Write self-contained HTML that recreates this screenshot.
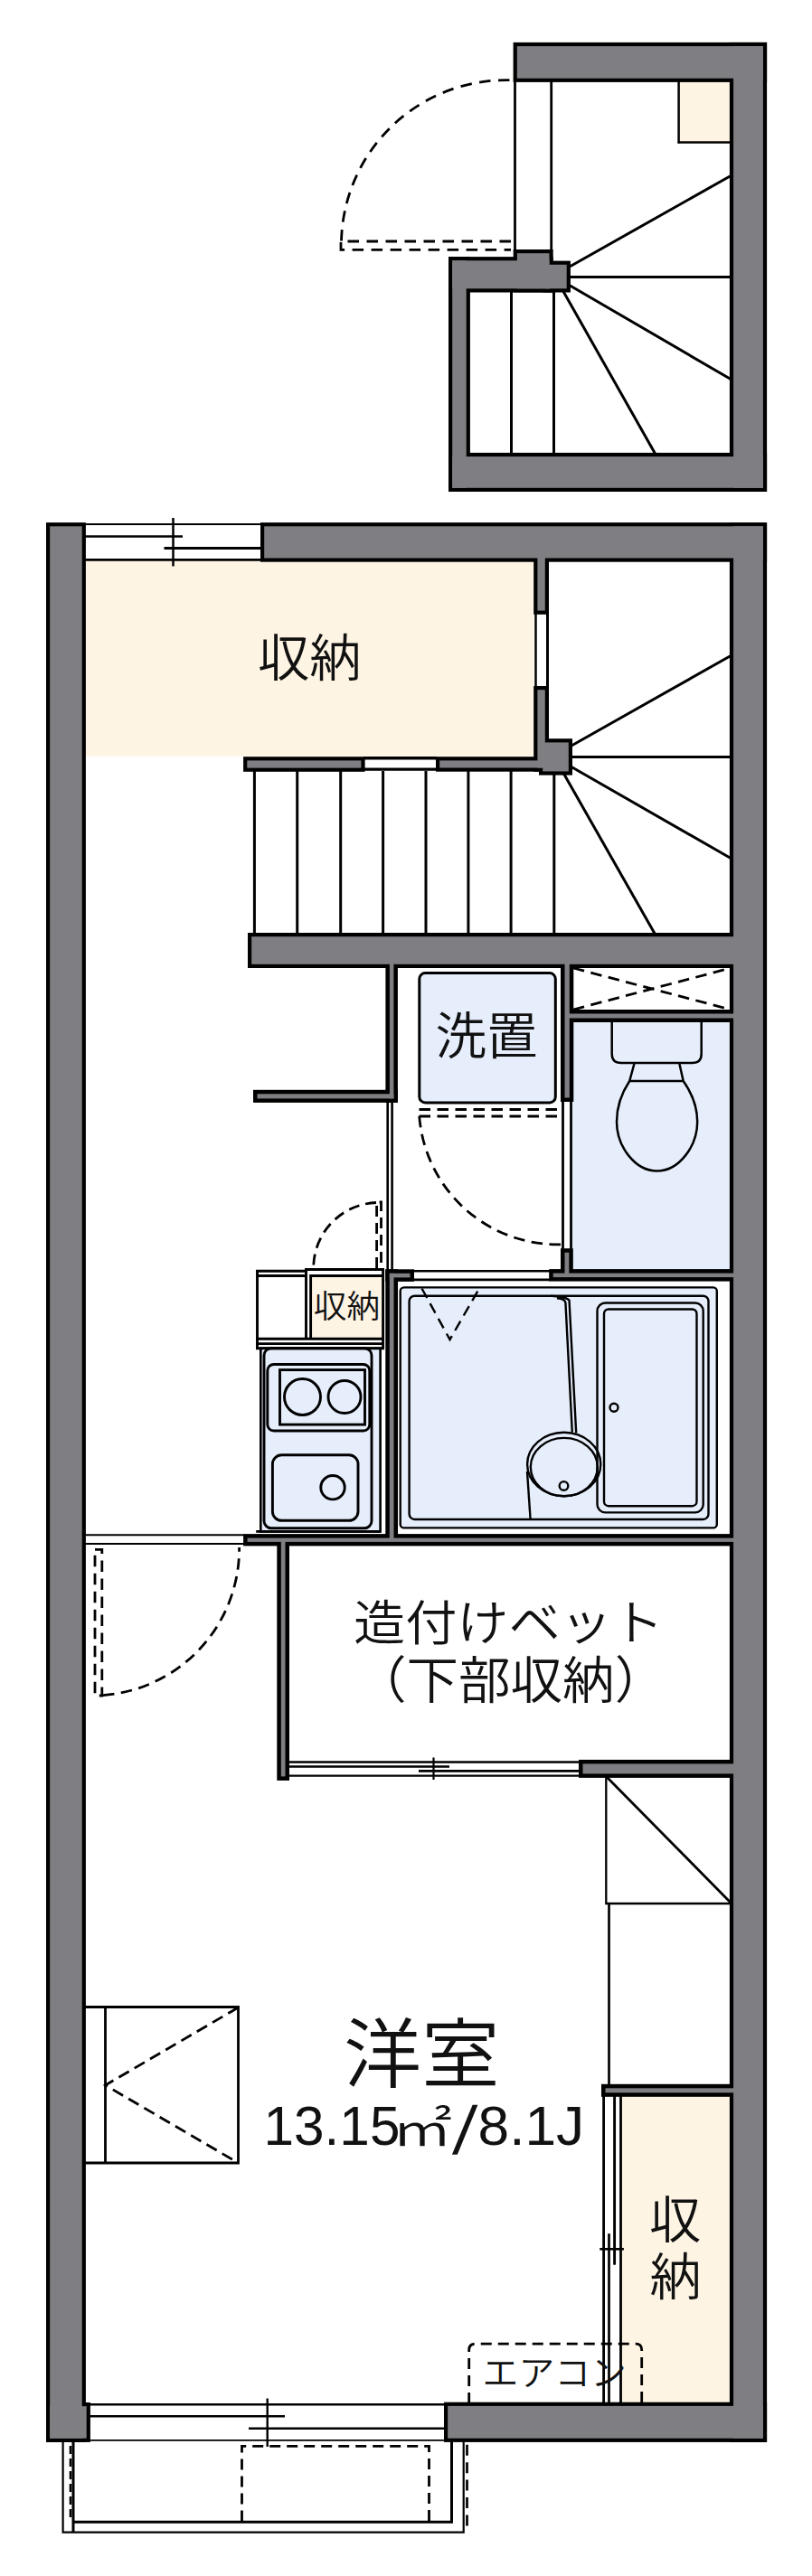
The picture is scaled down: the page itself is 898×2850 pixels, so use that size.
<!DOCTYPE html>
<html lang="ja"><head><meta charset="utf-8"><title>間取り図</title>
<style>html,body{margin:0;padding:0;background:#fff}svg{display:block}</style>
</head><body>
<svg width="898" height="2850" viewBox="0 0 898 2850">
<rect width="898" height="2850" fill="#fff"/>
<rect x="94.3" y="619.0" width="496.7" height="217.6" fill="#fef4e3" />
<rect x="750.6" y="88.5" width="58.4" height="69.0" fill="#fef4e3" />
<rect x="688.0" y="2317.0" width="122.0" height="343.0" fill="#fef4e3" />
<rect x="632.0" y="1128.0" width="178.0" height="278.0" fill="#e6eefc" />
<rect x="345.0" y="1413.0" width="77.4" height="67.0" fill="#fef4e3" />
<line x1="569.5" y1="88.0" x2="569.5" y2="278.0" stroke="#000" stroke-width="2.8" />
<line x1="609.7" y1="88.0" x2="609.7" y2="278.0" stroke="#000" stroke-width="2.8" />
<line x1="750.6" y1="88.0" x2="750.6" y2="158.5" stroke="#000" stroke-width="2.5" />
<line x1="749.6" y1="157.5" x2="809.0" y2="157.5" stroke="#000" stroke-width="2.5" />
<line x1="565.5" y1="321.0" x2="565.5" y2="502.0" stroke="#000" stroke-width="3" />
<line x1="612.5" y1="321.0" x2="612.5" y2="502.0" stroke="#000" stroke-width="3" />
<line x1="630.0" y1="295.0" x2="809.0" y2="194.0" stroke="#000" stroke-width="3" />
<line x1="630.0" y1="306.5" x2="809.0" y2="306.5" stroke="#000" stroke-width="3" />
<line x1="630.0" y1="315.8" x2="809.0" y2="420.0" stroke="#000" stroke-width="3" />
<line x1="622.2" y1="321.0" x2="724.6" y2="502.0" stroke="#000" stroke-width="3" />
<g fill="none" stroke="#000" stroke-width="2.8" stroke-dasharray="12.5 8.5">
<path d="M565,267 H377 V276.4 H565"/>
<path d="M377.5,266.5 A182.4,182.4 0 0 1 560,88.6 H567"/>
</g>
<line x1="94.0" y1="580.0" x2="289.0" y2="580.0" stroke="#000" stroke-width="2" />
<line x1="94.0" y1="593.5" x2="202.0" y2="593.5" stroke="#000" stroke-width="2.4" />
<line x1="181.5" y1="606.5" x2="289.0" y2="606.5" stroke="#000" stroke-width="2.8" />
<line x1="94.0" y1="619.4" x2="289.0" y2="619.4" stroke="#000" stroke-width="2.6" />
<line x1="191.5" y1="573.0" x2="191.5" y2="626.5" stroke="#000" stroke-width="2.5" />
<line x1="592.5" y1="677.0" x2="592.5" y2="761.0" stroke="#000" stroke-width="2.5" />
<line x1="605.5" y1="677.0" x2="605.5" y2="761.0" stroke="#000" stroke-width="3" />
<line x1="402.0" y1="838.7" x2="483.0" y2="838.7" stroke="#000" stroke-width="3.4" />
<line x1="402.0" y1="851.2" x2="483.0" y2="851.2" stroke="#000" stroke-width="3.2" />
<line x1="281.4" y1="853.0" x2="281.4" y2="1034.0" stroke="#000" stroke-width="3" />
<line x1="328.7" y1="853.0" x2="328.7" y2="1034.0" stroke="#000" stroke-width="3" />
<line x1="376.7" y1="853.0" x2="376.7" y2="1034.0" stroke="#000" stroke-width="3" />
<line x1="423.6" y1="853.0" x2="423.6" y2="1034.0" stroke="#000" stroke-width="3" />
<line x1="471.0" y1="853.0" x2="471.0" y2="1034.0" stroke="#000" stroke-width="3" />
<line x1="517.9" y1="853.0" x2="517.9" y2="1034.0" stroke="#000" stroke-width="3" />
<line x1="565.1" y1="853.0" x2="565.1" y2="1034.0" stroke="#000" stroke-width="3" />
<line x1="612.8" y1="853.0" x2="612.8" y2="1034.0" stroke="#000" stroke-width="3" />
<line x1="632.0" y1="825.0" x2="809.0" y2="725.0" stroke="#000" stroke-width="3" />
<line x1="632.0" y1="837.4" x2="809.0" y2="837.4" stroke="#000" stroke-width="3" />
<line x1="632.0" y1="848.5" x2="809.0" y2="950.0" stroke="#000" stroke-width="3" />
<line x1="623.5" y1="856.0" x2="724.7" y2="1034.0" stroke="#000" stroke-width="3" />
<rect x="463.8" y="1076.6" width="150.5" height="143.3" rx="6.5" fill="#e6eefc" stroke="#000" stroke-width="3"/>
<g fill="none" stroke="#000" stroke-width="2.8" stroke-dasharray="12.5 7.5">
<path d="M634,1071 L810,1117.5 M634,1117 L810,1070.5"/>
</g>
<line x1="428.7" y1="1219.0" x2="428.7" y2="1406.0" stroke="#000" stroke-width="2.6" />
<line x1="433.6" y1="1219.0" x2="433.6" y2="1406.0" stroke="#000" stroke-width="2.6" />
<line x1="622.5" y1="1217.0" x2="622.5" y2="1384.0" stroke="#000" stroke-width="2.8" />
<line x1="631.5" y1="1217.0" x2="631.5" y2="1384.0" stroke="#000" stroke-width="2.8" />
<g fill="none" stroke="#000" stroke-width="2.8" stroke-dasharray="12.5 7.5">
<path d="M463.5,1227.5 H616 V1235 H463.5 Z"/>
<path d="M463.7,1235 A153.7,153.7 0 0 0 621,1376.8"/>
</g>
<line x1="457.0" y1="1406.2" x2="608.0" y2="1406.2" stroke="#000" stroke-width="2.4" />
<line x1="457.0" y1="1415.8" x2="608.0" y2="1415.8" stroke="#000" stroke-width="2.8" />
<g fill="none" stroke="#000" stroke-width="2.5">
<path d="M676.7,1130 V1166 Q676.7,1176 687,1176 H765.5 Q775.7,1176 775.7,1166 V1130" fill="#e6eefc"/>
<path d="M701.4,1177 L696.2,1196 M751.4,1177 L755.7,1196 M696.2,1196 H755.7"/>
<path d="M696.2,1196 C687,1210 682,1225 682,1241 C682,1268 702,1295.5 726.7,1295.5 C751,1295.5 771.2,1268 771.2,1241 C771.2,1225 765.5,1210 755.7,1196"/>
</g>
<rect x="288.3" y="1491.7" width="132.3" height="202.7" fill="#e6eefc" stroke="#000" stroke-width="2.6"/>
<g fill="none" stroke="#000" stroke-width="2.9">
<path d="M284.5,1493 V1406.3 H338.5 M284.5,1411.5 H338.5"/>
<path d="M338.5,1481 V1404.5 H423.6 V1493 M343.6,1481 V1411.5 H423.6"/>
<path d="M283,1481.2 H425 M283,1486.6 H425 M283,1491.7 H425"/>
<path d="M283.2,1694.4 H421"/>
</g>
<g fill="none" stroke="#000" stroke-width="2.8" stroke-dasharray="12 7">
<path d="M416.6,1403 V1330 H421.5 V1403"/>
<path d="M416,1330.5 A72.4,72.4 0 0 0 346.7,1403"/>
</g>
<g fill="none" stroke="#000" stroke-width="2.9">
<rect x="292" y="1491.7" width="119" height="199" rx="8"/>
<rect x="295.8" y="1509.5" width="113" height="73.5" rx="7"/>
<rect x="309.5" y="1515.6" width="94" height="60.5"/>
<ellipse cx="334.5" cy="1545.5" rx="20" ry="20"/>
<ellipse cx="381" cy="1545.5" rx="18" ry="18"/>
<rect x="301.4" y="1609.8" width="94.6" height="72.5" rx="10"/>
<circle cx="368" cy="1645.7" r="13.2"/>
</g>
<rect x="442.7" y="1424.4" width="350.1" height="266" rx="4" fill="#e6eefc" stroke="#000" stroke-width="2.4"/>
<g fill="none" stroke="#000" stroke-width="2.4">
<rect x="452.6" y="1433.7" width="330.9" height="247.3" rx="6"/>
<rect x="660.5" y="1441.5" width="117.2" height="231.9" rx="9"/>
<rect x="668" y="1448.5" width="102.5" height="217.7" rx="5"/>
<circle cx="679" cy="1557.3" r="4.5"/>
<ellipse cx="623.7" cy="1620" rx="40.6" ry="35.2"/>
<ellipse cx="623.8" cy="1623.1" rx="37" ry="32.2"/>
<circle cx="623.5" cy="1643.9" r="4.8"/>
<path d="M609,1433.7 C618,1434.5 626,1435 629.5,1438.5 L637.2,1585.5"/>
<path d="M616,1436.3 C621,1437 624.5,1437.5 625.4,1441 L632.8,1584.5"/>
<path d="M583,1628 L586.6,1681"/>
</g>
<g fill="none" stroke="#000" stroke-width="2.4" stroke-dasharray="12 7">
<path d="M466.5,1425.5 L497.5,1482 L530,1425.5"/>
</g>
<line x1="94.0" y1="1698.3" x2="270.0" y2="1698.3" stroke="#000" stroke-width="2" />
<line x1="94.0" y1="1708.0" x2="270.0" y2="1708.0" stroke="#000" stroke-width="2.2" />
<g fill="none" stroke="#000" stroke-width="2.8" stroke-dasharray="12.5 7.5">
<path d="M105,1714.3 H112.8 V1876 H105 Z"/>
<path d="M114,1875.6 A162.6,162.6 0 0 0 264.6,1712"/>
</g>
<line x1="319.0" y1="1949.5" x2="641.0" y2="1949.5" stroke="#000" stroke-width="2.5" />
<line x1="319.0" y1="1954.5" x2="497.0" y2="1954.5" stroke="#000" stroke-width="2.6" />
<line x1="463.0" y1="1959.4" x2="641.0" y2="1959.4" stroke="#000" stroke-width="2.6" />
<line x1="319.0" y1="1964.6" x2="641.0" y2="1964.6" stroke="#000" stroke-width="2.3" />
<line x1="479.5" y1="1944.5" x2="479.5" y2="1969.0" stroke="#000" stroke-width="2.2" />
<g fill="none" stroke="#000" stroke-width="2.3">
<path d="M670.3,1962 V2106 H809"/>
<path d="M671,1966 L808.5,2105.5" stroke-width="2.8"/>
</g>
<line x1="673.5" y1="2106.0" x2="673.5" y2="2308.0" stroke="#000" stroke-width="2.7" />
<line x1="667.6" y1="2318.0" x2="667.6" y2="2660.0" stroke="#000" stroke-width="2.8" />
<line x1="673.5" y1="2471.2" x2="673.5" y2="2660.0" stroke="#000" stroke-width="2.7" />
<line x1="679.6" y1="2318.0" x2="679.6" y2="2505.7" stroke="#000" stroke-width="2.9" />
<line x1="686.5" y1="2318.0" x2="686.5" y2="2660.0" stroke="#000" stroke-width="2.8" />
<line x1="663.3" y1="2488.3" x2="689.9" y2="2488.3" stroke="#000" stroke-width="2.6" />
<path d="M518.7,2659 V2600 Q518.7,2593.2 525.5,2593.2 H703 Q709.7,2593.2 709.7,2600 V2659" fill="none" stroke="#000" stroke-width="2.8" stroke-dasharray="12 7"/>
<g fill="none" stroke="#000" stroke-width="2.8">
<path d="M94,2220.5 H263.5 V2393 H94 M116.5,2220.5 V2393"/>
<path d="M263.5,2221 L116.5,2307 L263.5,2393" stroke-dasharray="13 7"/>
</g>
<line x1="99.0" y1="2660.3" x2="492.0" y2="2660.3" stroke="#000" stroke-width="2.6" />
<line x1="99.0" y1="2673.3" x2="315.0" y2="2673.3" stroke="#000" stroke-width="2.6" />
<line x1="275.0" y1="2686.7" x2="492.0" y2="2686.7" stroke="#000" stroke-width="2.6" />
<line x1="99.0" y1="2699.9" x2="492.0" y2="2699.9" stroke="#000" stroke-width="1.6" />
<line x1="295.7" y1="2653.5" x2="295.7" y2="2707.0" stroke="#000" stroke-width="2.4" />
<g fill="none" stroke="#000" stroke-width="2.6">
<path d="M69.6,2700 V2801.7 H512.7 V2700" stroke-width="2.2"/>
<path d="M81,2700 V2801" stroke-width="3"/>
<path d="M81,2790.2 H499.5 V2700" stroke-width="3"/>
<path d="M78,2706 V2790" stroke-width="2.6" stroke-dasharray="9 5"/>
<path d="M516.5,2704.8 V2801" stroke-width="2.7" stroke-dasharray="12 7.4"/>
<path d="M474.5,2789 V2706.3 H267.5 V2789" stroke-width="2.8" stroke-dasharray="12 7"/>
</g>
<rect x="567.6" y="46.9" width="280.5" height="44.0" fill="#000" />
<rect x="806.9" y="46.9" width="41.2" height="497.1" fill="#000" />
<rect x="496.0" y="500.9" width="352.1" height="43.1" fill="#000" />
<rect x="496.0" y="284.0" width="23.9" height="260.0" fill="#000" />
<rect x="496.0" y="284.1" width="115.7" height="39.4" fill="#000" />
<rect x="567.7" y="276.0" width="44.0" height="47.5" fill="#000" />
<rect x="600.0" y="288.6" width="30.9" height="34.9" fill="#000" />
<rect x="51.0" y="578.1" width="43.9" height="2123.8" fill="#000" />
<rect x="51.0" y="2658.0" width="48.9" height="43.9" fill="#000" />
<rect x="288.0" y="578.1" width="560.1" height="43.6" fill="#000" />
<rect x="806.9" y="578.1" width="41.2" height="2123.8" fill="#000" />
<rect x="491.0" y="2657.7" width="357.1" height="44.2" fill="#000" />
<rect x="590.2" y="610.0" width="16.8" height="69.8" fill="#000" />
<rect x="590.2" y="759.0" width="16.8" height="94.7" fill="#000" />
<rect x="596.0" y="817.2" width="37.0" height="40.4" fill="#000" />
<rect x="269.1" y="837.2" width="134.5" height="16.6" fill="#000" />
<rect x="482.0" y="837.2" width="124.0" height="16.5" fill="#000" />
<rect x="274.0" y="1032.0" width="544.0" height="39.0" fill="#000" />
<rect x="426.4" y="1060.0" width="13.5" height="159.9" fill="#000" />
<rect x="280.0" y="1205.8" width="159.9" height="14.1" fill="#000" />
<rect x="620.0" y="1060.0" width="14.3" height="159.0" fill="#000" />
<rect x="624.0" y="1117.0" width="194.0" height="14.0" fill="#000" />
<rect x="620.0" y="1381.2" width="13.8" height="33.8" fill="#000" />
<rect x="607.2" y="1404.1" width="210.8" height="13.5" fill="#000" />
<rect x="426.3" y="1404.3" width="31.7" height="13.6" fill="#000" />
<rect x="426.3" y="1404.3" width="13.7" height="303.7" fill="#000" />
<rect x="269.1" y="1697.1" width="548.9" height="13.3" fill="#000" />
<rect x="306.3" y="1700.0" width="13.7" height="269.9" fill="#000" />
<rect x="640.0" y="1946.9" width="178.0" height="20.0" fill="#000" />
<rect x="665.0" y="2305.8" width="153.0" height="14.0" fill="#000" />
<rect x="571.8" y="51.1" width="272.1" height="35.6" fill="#7f7f83" />
<rect x="811.1" y="51.1" width="32.8" height="488.7" fill="#7f7f83" />
<rect x="500.2" y="505.1" width="343.7" height="34.7" fill="#7f7f83" />
<rect x="500.2" y="288.2" width="15.5" height="251.6" fill="#7f7f83" />
<rect x="500.2" y="288.3" width="107.3" height="31.0" fill="#7f7f83" />
<rect x="571.9" y="280.2" width="35.6" height="39.1" fill="#7f7f83" />
<rect x="604.2" y="292.8" width="22.5" height="26.5" fill="#7f7f83" />
<rect x="55.2" y="582.3" width="35.5" height="2115.4" fill="#7f7f83" />
<rect x="55.2" y="2662.2" width="40.5" height="35.5" fill="#7f7f83" />
<rect x="292.2" y="582.3" width="551.7" height="35.2" fill="#7f7f83" />
<rect x="811.1" y="582.3" width="32.8" height="2115.4" fill="#7f7f83" />
<rect x="495.2" y="2661.9" width="348.7" height="35.8" fill="#7f7f83" />
<rect x="594.4" y="614.2" width="8.4" height="61.4" fill="#7f7f83" />
<rect x="594.4" y="763.2" width="8.4" height="86.3" fill="#7f7f83" />
<rect x="600.2" y="821.4" width="28.6" height="32.0" fill="#7f7f83" />
<rect x="273.3" y="841.4" width="126.1" height="8.2" fill="#7f7f83" />
<rect x="486.2" y="841.4" width="115.6" height="8.1" fill="#7f7f83" />
<rect x="278.2" y="1036.2" width="535.6" height="30.6" fill="#7f7f83" />
<rect x="430.9" y="1064.5" width="4.5" height="150.9" fill="#7f7f83" />
<rect x="284.5" y="1210.3" width="150.9" height="5.1" fill="#7f7f83" />
<rect x="624.5" y="1064.5" width="5.3" height="150.0" fill="#7f7f83" />
<rect x="628.5" y="1121.5" width="185.0" height="5.0" fill="#7f7f83" />
<rect x="624.5" y="1385.7" width="4.8" height="24.8" fill="#7f7f83" />
<rect x="611.7" y="1408.6" width="201.8" height="4.5" fill="#7f7f83" />
<rect x="430.8" y="1408.8" width="22.7" height="4.6" fill="#7f7f83" />
<rect x="430.8" y="1408.8" width="4.7" height="294.7" fill="#7f7f83" />
<rect x="273.6" y="1701.6" width="539.9" height="4.3" fill="#7f7f83" />
<rect x="310.8" y="1704.5" width="4.7" height="260.9" fill="#7f7f83" />
<rect x="644.5" y="1951.4" width="169.0" height="11.0" fill="#7f7f83" />
<rect x="669.5" y="2310.3" width="144.0" height="5.0" fill="#7f7f83" />
<text transform="translate(284.91,747.67) scale(0.5730,0.5533)" font-size="100" font-weight="350" font-family="'Liberation Sans', 'Noto Sans CJK JP', sans-serif" fill="#111">収納</text>
<text transform="translate(481.54,1166.45) scale(0.5656,0.5565)" font-size="100" font-weight="350" font-family="'Liberation Sans', 'Noto Sans CJK JP', sans-serif" fill="#111">洗置</text>
<text transform="translate(346.83,1458.16) scale(0.3667,0.3554)" font-size="100" font-weight="350" font-family="'Liberation Sans', 'Noto Sans CJK JP', sans-serif" fill="#111">収納</text>
<text transform="translate(391.01,1814.89) scale(0.5717,0.5344)" font-size="100" font-weight="350" font-family="'Liberation Sans', 'Noto Sans CJK JP', sans-serif" fill="#111">造付けベット</text>
<text transform="translate(392.02,1878.92) scale(0.5754,0.5579)" font-size="100" font-weight="350" font-family="'Liberation Sans', 'Noto Sans CJK JP', sans-serif" fill="#111">（下部収納）</text>
<text transform="translate(380.05,2303.15) scale(0.8621,0.8435)" font-size="100" font-weight="350" font-family="'Liberation Sans', 'Noto Sans CJK JP', sans-serif" fill="#111">洋室</text>
<text transform="translate(291.58,2373.20) scale(0.6029,0.6028)" font-size="100" font-weight="350" font-family="'Liberation Sans', 'Noto Sans CJK JP', sans-serif" fill="#111">13.15</text>
<text transform="translate(433.53,2373.50) scale(0.6667,0.5149)" font-size="100" font-weight="350" font-family="'Liberation Sans', 'Noto Sans CJK JP', sans-serif" fill="#111">㎡</text>
<text transform="translate(500,2383.3) skewX(-8) scale(0.748,0.748)" font-size="100" font-family="'Liberation Sans', 'Noto Sans CJK JP', sans-serif" fill="#111">/</text>
<text transform="translate(528.51,2373.20) scale(0.6225,0.6028)" font-size="100" font-weight="350" font-family="'Liberation Sans', 'Noto Sans CJK JP', sans-serif" fill="#111">8.1J</text>
<text transform="translate(718.01,2475.89) scale(0.5731,0.5511)" font-size="100" font-weight="350" font-family="'Liberation Sans', 'Noto Sans CJK JP', sans-serif" fill="#111">収</text>
<text transform="translate(718.58,2538.78) scale(0.5722,0.5522)" font-size="100" font-weight="350" font-family="'Liberation Sans', 'Noto Sans CJK JP', sans-serif" fill="#111">納</text>
<text transform="translate(533.62,2639.43) scale(0.3982,0.3908)" font-size="100" font-weight="350" font-family="'Liberation Sans', 'Noto Sans CJK JP', sans-serif" fill="#111">エアコン</text>
</svg>
</body></html>
